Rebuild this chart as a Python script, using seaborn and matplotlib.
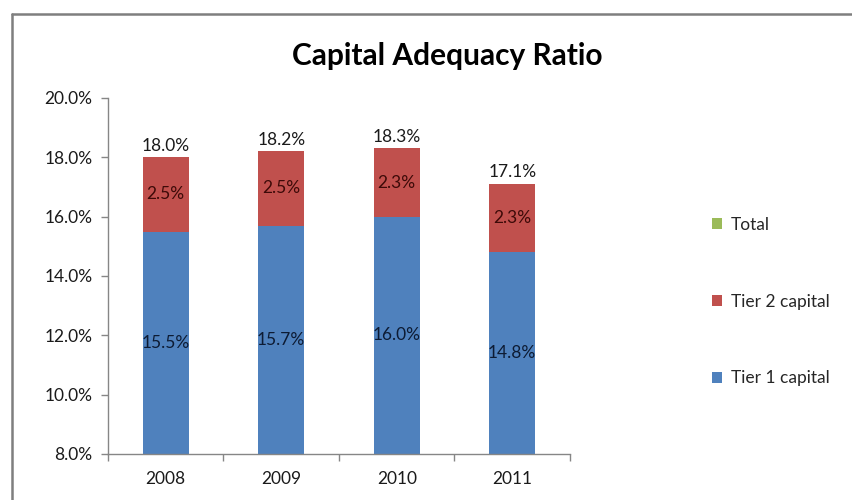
import matplotlib
matplotlib.use("Agg")
import matplotlib.pyplot as plt
import seaborn as sns
import pandas as pd
from matplotlib.lines import Line2D
from matplotlib.patches import Patch
from matplotlib.ticker import FuncFormatter, FixedLocator

years = ["2008", "2009", "2010", "2011"]
tier1 = [15.5, 15.7, 16.0, 14.8]
tier2 = [2.5, 2.5, 2.3, 2.3]
total = [18.0, 18.2, 18.3, 17.1]
yticks = [8, 10, 12, 14, 16, 18, 20]

BLUE = "#4F81BD"
RED = "#C0504D"
GREEN = "#9BBB59"
GRID = "#868686"

sns.set_theme(style="white")
plt.rcParams["font.family"] = ["Lato", "DejaVu Sans"]

df = pd.DataFrame({"year": years, "tier1": tier1, "tier2": tier2, "total": total})
df["stack"] = df["tier1"] + df["tier2"]

fig = plt.figure(figsize=(8.53, 5.0), dpi=100)
ax = fig.add_axes([0.1266, 0.092, 0.5416, 0.712])

sns.barplot(data=df, x="year", y="stack", color=RED, width=0.4,
            saturation=1, ax=ax, linewidth=0)
sns.barplot(data=df, x="year", y="tier1", color=BLUE, width=0.4,
            saturation=1, ax=ax, linewidth=0)

ax.set_ylim(8, 20)
ax.set_xlim(-0.5, 3.5)
ax.yaxis.set_major_locator(FixedLocator(yticks))
ax.yaxis.set_major_formatter(FuncFormatter(lambda v, p: f"{v:.1f}%"))
ax.set_xlabel("")
ax.set_ylabel("")

for s in ["top", "right"]:
    ax.spines[s].set_visible(False)
for s in ["left", "bottom"]:
    ax.spines[s].set_color(GRID)
    ax.spines[s].set_linewidth(1.0)

ax.tick_params(axis="y", which="major", length=5, width=1, color=GRID,
               direction="out", left=True, labelsize=12.5, pad=6, labelcolor="#1a1a1a")
ax.tick_params(axis="x", which="major", length=0, labelsize=12.5, pad=12, labelcolor="#1a1a1a")
ax.set_xticks([-0.5, 0.5, 1.5, 2.5, 3.5], minor=True)
ax.tick_params(axis="x", which="minor", length=5, width=1, color=GRID,
               direction="out", bottom=True)

for i in range(len(years)):
    ax.text(i, (8 + tier1[i]) / 2, f"{tier1[i]:.1f}%", ha="center", va="center",
            fontsize=12.5, color="#0d1b33")
    ax.text(i, tier1[i] + tier2[i] / 2, f"{tier2[i]:.1f}%", ha="center", va="center",
            fontsize=12.5, color="#3d0a08")
    ax.text(i, total[i] + 0.12, f"{total[i]:.1f}%", ha="center", va="bottom",
            fontsize=12.5, color="#1a1a1a")

fig.text(0.524, 0.888, "Capital Adequacy Ratio", ha="center", va="center",
         fontsize=21.5, fontweight="bold", color="black")

handles = [Patch(facecolor=GREEN, edgecolor="none"),
           Patch(facecolor=RED, edgecolor="none"),
           Patch(facecolor=BLUE, edgecolor="none")]
labels = ["Total", "Tier 2 capital", "Tier 1 capital"]
leg = fig.legend(handles, labels, loc="upper left", bbox_to_anchor=(0.826, 0.58),
                 frameon=False, fontsize=12.5, labelspacing=3.5,
                 handlelength=0.6, handleheight=0.6, handletextpad=0.5,
                 borderaxespad=0)

# figure border (top and left)
fig.add_artist(Line2D([12 / 853, 1.0], [1 - 14 / 500, 1 - 14 / 500],
                      transform=fig.transFigure, color="#7f7f7f", linewidth=1.8))
fig.add_artist(Line2D([12 / 853, 12 / 853], [0.0, 1 - 14 / 500],
                      transform=fig.transFigure, color="#7f7f7f", linewidth=1.8))

fig.savefig("out.png", dpi=100)
